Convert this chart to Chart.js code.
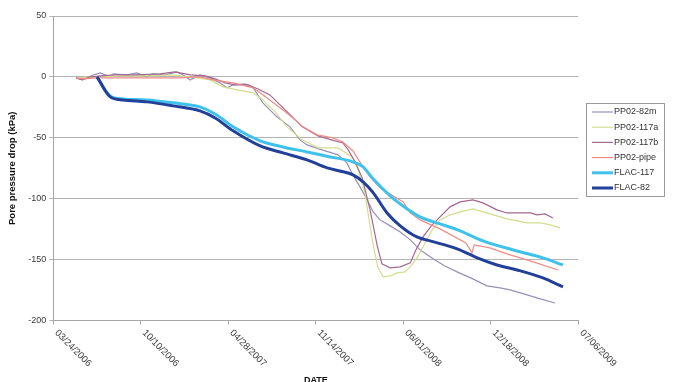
<!DOCTYPE html>
<html>
<head>
<meta charset="utf-8">
<script src="https://cdn.jsdelivr.net/npm/chart.js@4/dist/chart.umd.min.js"></script>
<style>
  html, body { margin: 0; padding: 0; background: #ffffff; }
  #wrap { width: 674px; height: 382px; }
</style>
</head>
<body>
<div id="wrap"><canvas id="c" width="674" height="382"></canvas></div>
<script>
// Dates are spreadsheet day serials (day 0 = 12/30/1899); values are pore pressure drop in kPa.
const xStart = 38800;   // 03/24/2006
const xEnd = 40000;     // 07/06/2009
const xStep = 200;      // days between date ticks
const yTicks = [50, 0, -50, -100, -150, -200];

const pp82mDays = [38852,38866,38891,38907,38930,38937,38968,38991,39014,39028,39055,39083,39097,39113,39135,39158,39181,39197,39211,39238,39257,39279,39311,39341,39364,39380,39414,39451,39471,39485,39501,39515,39531,39547,39570,39593,39616,39638,39668,39695,39723,39759,39791,39821,39844,39883,39913,39947];
const pp82mKPa  = [-0.8,-2.5,1.6,3.3,0,2.5,1.6,3.3,0,2.5,1.6,4.1,1.6,-2.5,1.6,-0.8,-4.9,-9,-6.6,-5.7,-9,-21.3,-32.8,-41,-51.7,-55.8,-59.9,-64,-70.6,-80.5,-90.3,-99.3,-110.8,-117.4,-122.3,-127.3,-133.8,-142,-149.4,-155.2,-160.1,-165.8,-171.6,-173.2,-174.9,-179,-182.3,-185.6];

const pp117aDays = [38852,38907,38960,39021,39070,39113,39158,39188,39220,39257,39279,39307,39334,39369,39405,39451,39483,39497,39513,39529,39542,39554,39570,39586,39604,39616,39631,39645,39666,39684,39707,39730,39759,39798,39837,39883,39913,39936,39958];
const pp117aKPa  = [-0.8,0,0.8,0.8,1.6,0,-2.5,-8.2,-10.7,-13.1,-18.9,-28.7,-41,-51.7,-58.3,-58.3,-65.7,-76.4,-96.9,-133.8,-156.8,-164.2,-163.4,-160.9,-160.1,-156,-148.6,-139.6,-125.6,-117.4,-113.3,-110.8,-108.4,-112.5,-116.6,-119.9,-119.9,-121.5,-124];

const pp117bDays = [38852,38866,38884,38907,38941,38987,39044,39078,39113,39147,39170,39193,39215,39245,39268,39295,39330,39369,39405,39444,39462,39474,39490,39506,39524,39540,39551,39570,39593,39616,39629,39645,39666,39684,39707,39730,39759,39782,39814,39837,39867,39890,39906,39924,39942];
const pp117bKPa  = [-0.8,-2.5,0,0.8,1.6,1.6,2.5,4.1,1.6,0.8,-1.6,-4.9,-6.6,-6.6,-9.9,-14.8,-27.1,-41,-48.4,-52.5,-54.2,-59.9,-69.8,-82.9,-109.2,-137.9,-153.5,-156.8,-156,-152.7,-142,-131.4,-121.5,-114.9,-106.7,-102.6,-101,-103.4,-109.2,-111.7,-111.7,-111.7,-113.3,-112.5,-115.8];

const pipeDays = [38852,38872,38895,38953,39021,39090,39135,39165,39211,39257,39295,39334,39371,39403,39439,39462,39485,39508,39524,39547,39577,39600,39616,39638,39684,39743,39757,39762,39798,39837,39897,39954];
const pipeKPa  = [-0.8,-1.6,-0.8,-0.8,-0.8,-0.8,0,-2.5,-4.9,-9,-18.9,-29.6,-41,-47.6,-50.1,-53.4,-60.8,-73.9,-82.1,-91.1,-97.7,-102.6,-111.7,-117.4,-124.8,-136.3,-144.5,-137.9,-140.4,-145.3,-151.9,-158.5];

const flac117Days = [38900,38930,38959,39014,39074,39135,39170,39211,39273,39325,39380,39433,39478,39508,39531,39570,39609,39638,39684,39730,39782,39860,39919,39965];
const flac117KPa  = [0,-15.6,-18.1,-18.9,-21.3,-24.6,-30.4,-41,-52.5,-57.5,-61.6,-65.7,-69,-73.9,-83.7,-97.7,-108.4,-114.9,-120.7,-126.4,-134.6,-142.9,-148.6,-154.4];

const flac82Days = [38900,38930,38959,39014,39074,39135,39170,39211,39273,39325,39380,39426,39455,39485,39508,39531,39563,39593,39631,39661,39723,39769,39814,39860,39919,39965];
const flac82KPa  = [0,-16.4,-18.9,-20.5,-23.8,-27.9,-33.7,-44.3,-56.7,-62.4,-68.1,-74.7,-77.2,-80.5,-86.2,-95,-111.7,-122.3,-131.4,-134.6,-141.2,-148.6,-154.4,-158.5,-165,-172.4];

const FONT = "'Liberation Sans', Arial, sans-serif";

function pts(days, vals) {
  return days.map((d, i) => ({ x: d, y: vals[i] }));
}
function serialToDate(serial) {
  const d = new Date(Date.UTC(1899, 11, 30) + serial * 86400000);
  const mm = String(d.getUTCMonth() + 1).padStart(2, '0');
  const dd = String(d.getUTCDate()).padStart(2, '0');
  return mm + '/' + dd + '/' + d.getUTCFullYear();
}

function series(label, days, vals, color, width, order, smooth) {
  return {
    label, data: pts(days, vals), borderColor: color, backgroundColor: color,
    borderWidth: width, pointRadius: 0, fill: false, order,
    tension: smooth ? 0.3 : 0, cubicInterpolationMode: smooth ? 'monotone' : 'default'
  };
}

// Rotated date labels under the x axis plus the axis title
const dateAxisLabels = {
  id: 'dateAxisLabels',
  afterDraw(chart) {
    const ctx = chart.ctx, xs = chart.scales.x, area = chart.chartArea;
    ctx.save();
    ctx.fillStyle = '#3a3a3a';
    ctx.font = '9.5px ' + FONT;
    ctx.textAlign = 'left';
    ctx.textBaseline = 'middle';
    xs.ticks.forEach(t => {
      const px = xs.getPixelForValue(t.value);
      ctx.save();
      ctx.translate(px + 3, area.bottom + 11);
      ctx.rotate(Math.PI / 4);
      ctx.fillText(serialToDate(t.value), 0, 0);
      ctx.restore();
    });
    ctx.font = 'bold 9px ' + FONT;
    ctx.fillStyle = '#111';
    ctx.textAlign = 'center';
    ctx.textBaseline = 'top';
    ctx.fillText('DATE', (area.left + area.right) / 2, 376.5);
    ctx.restore();
  }
};

// Boxed legend to the right of the plot
const boxLegend = {
  id: 'boxLegend',
  afterDraw(chart) {
    const ctx = chart.ctx;
    const bx = 586.5, by = 103.5, bw = 78, bh = 93, rowH = 15.2;
    ctx.save();
    ctx.fillStyle = '#ffffff';
    ctx.fillRect(bx, by, bw, bh);
    ctx.strokeStyle = '#9a9a9a';
    ctx.lineWidth = 1;
    ctx.strokeRect(bx, by, bw, bh);
    ctx.font = '9px ' + FONT;
    ctx.textAlign = 'left';
    ctx.textBaseline = 'middle';
    chart.data.datasets.forEach((ds, i) => {
      const y = 112 + i * rowH;
      ctx.strokeStyle = ds.borderColor;
      ctx.lineWidth = ds.borderWidth;
      ctx.beginPath();
      ctx.moveTo(592, y);
      ctx.lineTo(613, y);
      ctx.stroke();
      ctx.fillStyle = '#333';
      ctx.fillText(ds.label, 614, y);
    });
    ctx.restore();
  }
};

new Chart(document.getElementById('c'), {
  type: 'line',
  data: {
    datasets: [
      series('PP02-82m',  pp82mDays,  pp82mKPa,  '#9890b6', 1.2, 5, false),
      series('PP02-117a', pp117aDays, pp117aKPa, '#d3de8e', 1.2, 4, false),
      series('PP02-117b', pp117bDays, pp117bKPa, '#a66890', 1.2, 3, false),
      series('PP02-pipe', pipeDays,   pipeKPa,   '#f08c88', 1.2, 2, false),
      series('FLAC-117',  flac117Days, flac117KPa, '#3ec2ec', 3, 1, true),
      series('FLAC-82',   flac82Days,  flac82KPa,  '#22409a', 3, 0, true)
    ]
  },
  options: {
    responsive: false,
    animation: false,
    devicePixelRatio: 1,
    layout: { padding: { top: 16, right: 95.7, bottom: 0, left: 0 } },
    plugins: { legend: { display: false }, tooltip: { enabled: false } },
    scales: {
      x: {
        type: 'linear', min: xStart, max: xEnd,
        ticks: { display: false, stepSize: xStep },
        grid: { drawOnChartArea: false, drawTicks: true, tickLength: 4, color: '#a6a6a6' },
        border: { color: '#a6a6a6', width: 1 },
        afterFit: s => { s.height = 61.5; }
      },
      y: {
        min: -200, max: 50,
        afterBuildTicks: s => { s.ticks = yTicks.map(v => ({ value: v })); },
        ticks: { color: '#3a3a3a', padding: 3, font: { family: FONT, size: 9 } },
        grid: { color: '#b4b4b4', tickLength: 4, lineWidth: 1 },
        border: { color: '#a6a6a6', width: 1 },
        title: {
          display: true, text: 'Pore pressure drop (kPa)', color: '#111',
          font: { family: FONT, size: 9.5, weight: 'bold' }, padding: { top: 7, bottom: 0 }
        },
        afterFit: s => { s.width = 53.3; }
      }
    }
  },
  plugins: [dateAxisLabels, boxLegend]
});
</script>
</body>
</html>
